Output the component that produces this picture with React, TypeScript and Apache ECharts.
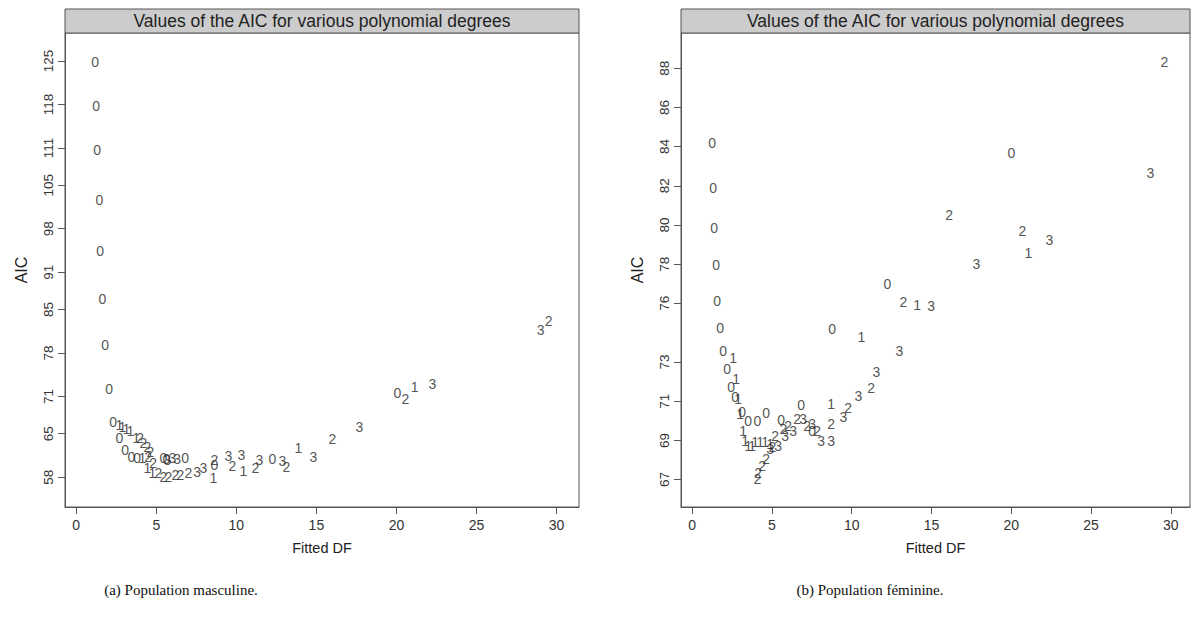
import React, { useEffect, useRef } from "react";
import * as echarts from "echarts";

const TITLE = "Values of the AIC for various polynomial degrees";
const xTicks = [0, 5, 10, 15, 20, 25, 30];
const maleYTicks = [58, 65, 71, 78, 85, 91, 98, 105, 111, 118, 125];
const femaleYTicks = [67, 69, 71, 73, 76, 78, 80, 82, 84, 86, 88];
const degrees = ["0", "1", "2", "3"];

// Population masculine: [fitted DF, AIC]
const maleDeg0 = [
  [1.19, 124.8], [1.25, 117.7], [1.31, 110.7], [1.44, 102.6], [1.5, 94.4], [1.63, 86.7],
  [1.81, 79.3], [2.06, 72.2], [2.31, 66.9], [2.69, 64.3], [3.06, 62.3], [3.44, 61.2],
  [3.81, 61.1], [5.44, 61.1], [5.63, 60.9], [6.81, 61.1], [8.63, 59.9], [12.25, 60.9], [20.06, 71.5],
];
const maleDeg1 = [
  [2.69, 66.4], [2.88, 66.1], [3.13, 65.7], [3.38, 65.4], [3.75, 64.3], [4.13, 61.1],
  [4.44, 59.4], [4.75, 58.6], [8.56, 57.8], [10.44, 59.0], [13.88, 62.7], [21.13, 72.5],
];
const maleDeg2 = [
  [4.0, 64.3], [4.19, 63.5], [4.44, 62.8], [4.63, 62.0], [4.5, 61.2], [4.81, 60.3],
  [5.13, 58.6], [5.44, 58.0], [5.75, 58.0], [6.19, 58.3], [6.5, 58.3], [7.0, 58.6],
  [8.63, 60.7], [9.75, 59.8], [11.19, 59.4], [13.13, 59.6], [16.0, 64.1], [20.56, 70.6], [29.5, 83.1],
];
const maleDeg3 = [
  [5.69, 60.7], [6.0, 61.1], [6.31, 60.9], [7.56, 58.8], [7.94, 59.4], [9.5, 61.4],
  [10.31, 61.5], [11.44, 60.7], [12.88, 60.6], [14.81, 61.2], [17.69, 66.1], [22.25, 73.0], [29.0, 81.7],
];

// Population féminine: [fitted DF, AIC]
const femaleDeg0 = [
  [1.25, 84.18], [1.32, 81.9], [1.38, 79.86], [1.5, 77.93], [1.57, 76.1], [1.76, 74.73],
  [1.94, 73.56], [2.19, 72.64], [2.45, 71.73], [2.7, 71.2], [3.13, 70.46], [3.51, 70.0],
  [4.08, 70.0], [4.64, 70.4], [5.58, 70.05], [6.83, 70.81], [7.52, 69.49], [8.78, 74.68],
  [12.23, 76.96], [20.0, 83.68],
];
const femaleDeg1 = [
  [2.57, 73.2], [2.76, 72.13], [2.88, 71.12], [3.0, 70.36], [3.2, 69.49], [3.32, 68.98],
  [3.51, 68.73], [3.76, 68.73], [3.95, 68.93], [4.26, 68.93], [4.58, 68.93], [4.89, 68.83],
  [8.71, 70.86], [10.6, 74.27], [14.1, 75.9], [21.07, 78.59],
];
const femaleDeg2 = [
  [4.08, 67.05], [4.14, 67.36], [4.39, 67.7], [4.64, 68.07], [5.02, 68.68], [5.2, 69.24],
  [5.71, 69.59], [6.02, 69.75], [6.58, 70.1], [7.21, 69.75], [7.84, 69.49], [8.71, 69.85],
  [9.78, 70.66], [11.22, 71.68], [13.23, 76.05], [16.11, 80.52], [20.69, 79.71], [29.6, 88.3],
];
const femaleDeg3 = [
  [4.89, 68.58], [5.39, 68.73], [5.83, 69.24], [6.33, 69.49], [6.96, 70.1], [7.52, 69.85],
  [8.09, 68.98], [8.71, 68.98], [9.47, 70.2], [10.41, 71.27], [11.54, 72.49], [12.98, 73.56],
  [14.98, 75.85], [17.81, 78.03], [22.38, 79.25], [28.71, 82.66],
];

const maleSeries = [maleDeg0, maleDeg1, maleDeg2, maleDeg3];
const femaleSeries = [femaleDeg0, femaleDeg1, femaleDeg2, femaleDeg3];

const SANS = "Liberation Sans, Arial, sans-serif";
const SERIF = "Liberation Serif, Times New Roman, serif";
const AXIS = "#555";

const panels = [
  { left: 65, width: 514, xMax: 31.4, yMin: 53.2, yMax: 129.5, ticks: maleYTicks, series: maleSeries, caption: "(a) Population masculine.", capX: 181 },
  { left: 681, width: 509, xMax: 31.2, yMin: 65.6, yMax: 89.8, ticks: femaleYTicks, series: femaleSeries, caption: "(b) Population féminine.", capX: 870 },
];
const TOP = 33;
const HEIGHT = 474;

export default function App() {
  const ref = useRef<HTMLDivElement>(null);
  useEffect(() => {
    document.body.style.margin = "0";
    if (!ref.current) return;
    const chart = echarts.init(ref.current, null, { renderer: "svg" });
    const grid: any[] = [];
    const xAxis: any[] = [];
    const yAxis: any[] = [];
    const series: any[] = [];
    const graphic: any[] = [];
    panels.forEach((p, i) => {
      grid.push({ left: p.left, top: TOP, width: p.width, height: HEIGHT, show: true, borderColor: AXIS, borderWidth: 1, backgroundColor: "#fff" });
      xAxis.push({
        type: "value", gridIndex: i, min: -0.7, max: p.xMax,
        name: "Fitted DF", nameLocation: "middle", nameGap: 33,
        nameTextStyle: { fontFamily: SANS, fontSize: 14.5, color: "#222" },
        axisLine: { show: true, onZero: false, lineStyle: { color: AXIS } },
        axisTick: { show: true, length: 7, customValues: xTicks, lineStyle: { color: AXIS } },
        axisLabel: { customValues: xTicks, margin: 11, fontFamily: SANS, fontSize: 14, color: "#333" },
        splitLine: { show: false },
      });
      yAxis.push({
        type: "value", gridIndex: i, min: p.yMin, max: p.yMax,
        name: "AIC", nameLocation: "middle", nameGap: 36, nameRotate: 90,
        nameTextStyle: { fontFamily: SANS, fontSize: 16, color: "#222" },
        axisLine: { show: true, onZero: false, lineStyle: { color: AXIS } },
        axisTick: { show: true, length: 7, customValues: p.ticks, lineStyle: { color: AXIS } },
        axisLabel: { customValues: p.ticks, rotate: 90, margin: 10, fontFamily: SANS, fontSize: 13.5, color: "#333" },
        splitLine: { show: false },
      });
      p.series.forEach((data, d) => {
        series.push({
          type: "scatter", name: degrees[d], xAxisIndex: i, yAxisIndex: i,
          data, symbolSize: 1, itemStyle: { color: "rgba(0,0,0,0)" },
          label: {
            show: true, position: "inside", formatter: () => degrees[d],
            fontFamily: SANS, fontSize: 14, color: "#262626",
            textBorderWidth: 0, textBorderColor: "transparent", textShadowBlur: 0,
          },
          emphasis: { disabled: true },
        });
      });
      graphic.push({
        type: "rect", shape: { x: p.left, y: 9, width: p.width, height: 24 },
        style: { fill: "#cccccc", stroke: AXIS, lineWidth: 1 },
      });
      graphic.push({
        type: "text", x: p.left + p.width / 2, y: 21,
        style: { text: TITLE, fontFamily: SANS, fontSize: 17.5, fill: "#222", align: "center", verticalAlign: "middle" },
      });
      graphic.push({
        type: "text", x: p.capX, y: 590,
        style: { text: p.caption, fontFamily: SERIF, fontSize: 15, fill: "#111", align: "center", verticalAlign: "middle" },
      });
    });
    chart.setOption({ animation: false, backgroundColor: "#fff", grid, xAxis, yAxis, series, graphic, tooltip: { show: false } });
    return () => chart.dispose();
  }, []);
  return <div ref={ref} style={{ width: 1192, height: 622, background: "#fff" }} />;
}
